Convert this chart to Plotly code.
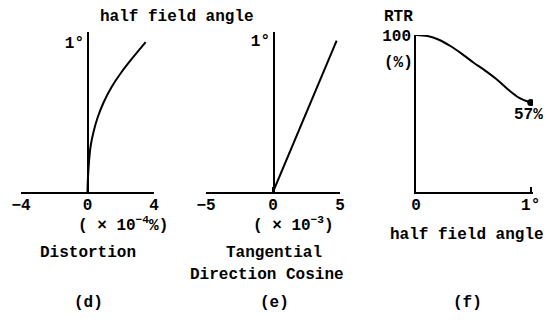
import plotly.graph_objects as go

# (d) distortion vs half field angle
angle_d = [0, 0.05, 0.1, 0.2, 0.3, 0.4, 0.5, 0.6, 0.7, 0.8, 0.9, 1.0]
distortion = [0, 0.01, 0.03, 0.09, 0.18, 0.36, 0.62, 0.98, 1.45, 2.05, 2.75, 3.5]

# (e) tangential direction cosine vs half field angle
angle_e = [0, 0.5, 1.0]
direction_cosine = [0, 2.38, 4.75]

# (f) RTR vs half field angle
angle_f = [0, 0.1, 0.2, 0.3, 0.4, 0.5, 0.6, 0.7, 0.8, 0.9, 1.0]
rtr = [100, 99.3, 97, 93, 88, 82.5, 77.5, 72, 65.5, 60, 57]

d_ticks = [-4, 0, 4]
e_ticks = [-5, 0, 5]

# page body has an 8px margin on every side, so the figure is made smaller
OFF = 8
W, H = 553 - 2 * OFF, 334 - 2 * OFF
FONT = "Liberation Mono"
FSIZE = 16


def px(x):
    return (x - OFF) / W


def py(y):
    return 1 - (y - OFF) / H


fig = go.Figure()

fig.add_trace(go.Scatter(x=distortion, y=angle_d, mode="lines", line=dict(color="black", width=2, shape="spline"),
                         xaxis="x", yaxis="y"))
fig.add_trace(go.Scatter(x=direction_cosine, y=angle_e, mode="lines", line=dict(color="black", width=2),
                         xaxis="x2", yaxis="y2"))
fig.add_trace(go.Scatter(x=angle_f, y=rtr, mode="lines", line=dict(color="black", width=2, shape="spline"),
                         xaxis="x3", yaxis="y3"))
fig.add_trace(go.Scatter(x=[angle_f[-1]], y=[rtr[-1]], mode="markers", marker=dict(color="black", size=7),
                         xaxis="x3", yaxis="y3"))

tickfont = dict(family=FONT, size=FSIZE, color="black", weight="bold")
xcommon = dict(showline=True, linecolor="black", linewidth=1.5, showgrid=False, zeroline=False, automargin=False,
               ticks="inside", ticklen=5, tickcolor="black", tickwidth=1.5, tickfont=tickfont, fixedrange=True,
               ticklabelstandoff=-3)
ycommon = dict(showline=True, linecolor="black", linewidth=1.5, showgrid=False, zeroline=False, automargin=False,
               ticks="", tickfont=tickfont, fixedrange=True)

ydom = [py(192), py(32)]
fig.update_layout(
    xaxis=dict(xcommon, domain=[px(21), px(154)], range=[-4, 4], tickvals=d_ticks, anchor="y"),
    yaxis=dict(ycommon, domain=ydom, range=[0, 1.067], tickvals=[1], ticktext=["1°"],
               anchor="free", position=px(88)),
    xaxis2=dict(xcommon, domain=[px(206), px(340)], range=[-5, 5], tickvals=e_ticks, anchor="y2"),
    yaxis2=dict(ycommon, domain=ydom, range=[0, 1.057], tickvals=[1], ticktext=["1°"],
                anchor="free", position=px(274)),
    xaxis3=dict(xcommon, domain=[px(416), px(533)], range=[0, 1.02], tickvals=[0, 1], ticktext=["0", "1°"],
                anchor="y3"),
    yaxis3=dict(ycommon, domain=[py(192), py(35)], range=[0, 100], tickvals=[100], ticktext=["100"],
                anchor="x3"),
)

labels = [
    ("half field angle", 177, 17, "center"),
    ("( × 10<sup>−4</sup>%)", 123, 224, "center"),
    ("Distortion", 88, 253, "center"),
    ("(d)", 88, 303, "center"),
    ("( × 10<sup>−3</sup>)", 293, 224, "center"),
    ("Tangential", 274, 253, "center"),
    ("Direction Cosine", 267, 275, "center"),
    ("(e)", 274, 303, "center"),
    ("RTR", 398, 17, "center"),
    ("(%)", 398, 63, "center"),
    ("57%", 545, 115, "right"),
    ("half field angle", 467, 235, "center"),
    ("(f)", 467, 303, "center"),
]
for text, x, y, anchor in labels:
    fig.add_annotation(text=text, x=px(x), y=py(y), xref="paper", yref="paper", showarrow=False,
                       xanchor=anchor, yanchor="middle",
                       font=dict(family=FONT, size=FSIZE, color="black", weight="bold"))

fig.update_layout(
    template="none",
    width=W, height=H, margin=dict(l=0, r=0, t=0, b=0, pad=0),
    paper_bgcolor="white", plot_bgcolor="white", showlegend=False,
)

fig.write_html("out.html")
